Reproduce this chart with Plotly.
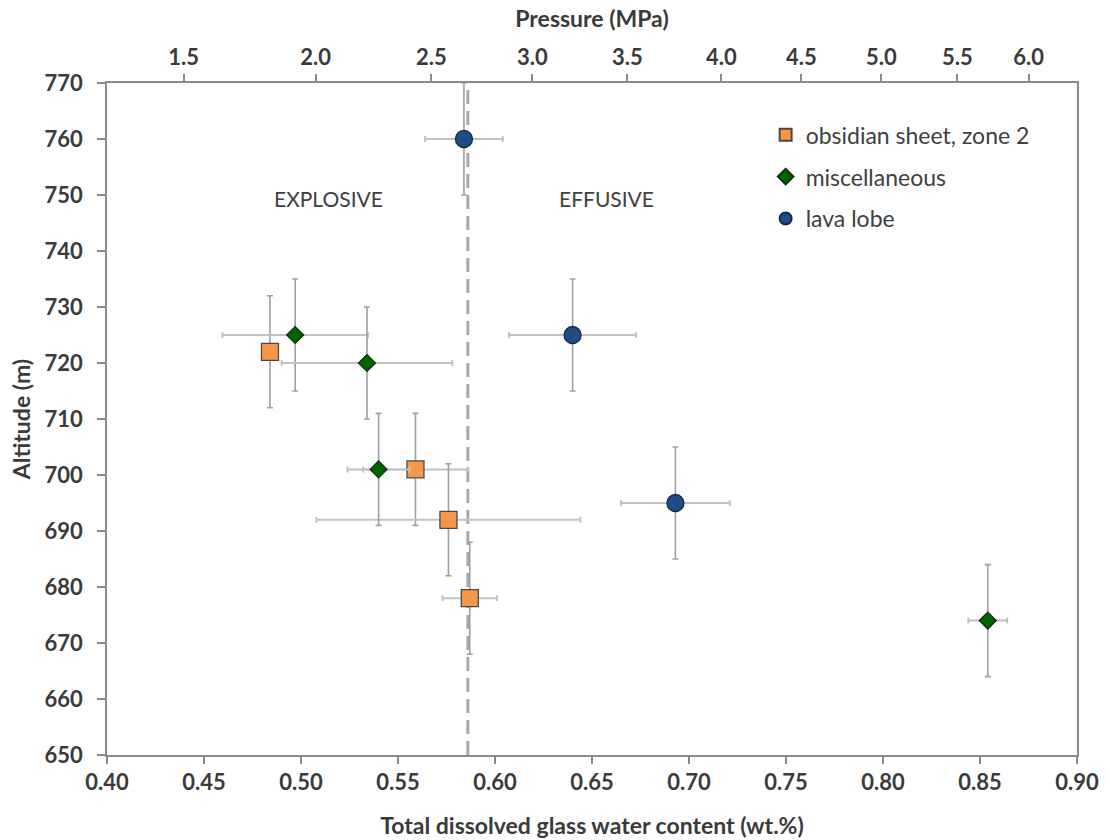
import plotly.graph_objects as go

# ---- data ----
obs_x = [0.484, 0.559, 0.576, 0.587]
obs_y = [722, 701, 692, 678]
obs_xerr = [0.0, 0.027, 0.068, 0.014]
obs_yerr = [10, 10, 10, 10]

misc_x = [0.497, 0.534, 0.540, 0.854]
misc_y = [725, 720, 701, 674]
misc_xerr = [0.0375, 0.044, 0.016, 0.010]
misc_yerr = [10, 10, 10, 10]

lava_x = [0.584, 0.640, 0.693]
lava_y = [760, 725, 695]
lava_xerr = [0.020, 0.0327, 0.028]
lava_yerr = [10, 10, 10]

threshold_x = 0.586
y_range = [650, 770]
x_range = [0.40, 0.90]

pressure_labels = ["1.5", "2.0", "2.5", "3.0", "3.5", "4.0", "4.5", "5.0", "5.5", "6.0"]
pressure_pos = [0.4395, 0.5076, 0.5672, 0.6193, 0.6682, 0.7167, 0.7579, 0.7992, 0.8383, 0.8751]

x_ticks = [0.40, 0.45, 0.50, 0.55, 0.60, 0.65, 0.70, 0.75, 0.80, 0.85, 0.90]
y_ticks = list(range(650, 771, 10))

FONT = "Lato"
TXT = "#3a3a3a"
AX = "#8a8a8a"
TICK_SIZE = 22
TITLE_SIZE = 23

fig = go.Figure()

# dashed threshold line
fig.add_trace(go.Scatter(
    x=[threshold_x, threshold_x], y=y_range, mode="lines",
    line=dict(color="#a9a9a9", width=3, dash="14px,7px"),
    showlegend=False, hoverinfo="skip"))

def add(name, x, y, xe, ye, symbol, size, fill, border):
    fig.add_trace(go.Scatter(
        x=x, y=y, mode="markers", name=name, legendgroup=name,
        marker=dict(symbol=symbol, size=size, color=fill,
                    line=dict(color=border, width=1.3)),
        error_x=dict(type="data", array=xe, visible=True,
                     color="#c2c2c2", thickness=2, width=3),
        error_y=dict(type="data", array=ye, visible=True,
                     color="#a0a0a0", thickness=1.6, width=3),
    ))

add("obsidian sheet, zone 2", obs_x, obs_y, obs_xerr, obs_yerr,
    "square", 17, "#F79646", "#4a4a4a")
add("miscellaneous", misc_x, misc_y, misc_xerr, misc_yerr,
    "diamond", 13, "#006400", "#0b2e0b")
add("lava lobe", lava_x, lava_y, lava_xerr, lava_yerr,
    "circle", 17, "#1F4E85", "#142a4a")

# invisible trace carrying the top pressure axis
fig.add_trace(go.Scatter(
    x=pressure_pos, y=[y_range[0]] * len(pressure_pos), xaxis="x2",
    mode="markers", marker=dict(opacity=0), showlegend=False, hoverinfo="skip"))

fig.add_annotation(x=0.5143, y=749.3, text="EXPLOSIVE", showarrow=False,
                   font=dict(family=FONT, size=21, color="#404040"))
fig.add_annotation(x=0.6576, y=749.3, text="EFFUSIVE", showarrow=False,
                   font=dict(family=FONT, size=21, color="#404040"))

fig.update_layout(
    width=1109, height=840,
    margin=dict(l=107, r=32, t=83, b=85),
    paper_bgcolor="white", plot_bgcolor="white",
    font=dict(family=FONT, color=TXT),
    legend=dict(x=0.679, y=0.955, xanchor="left", yanchor="top",
                font=dict(family=FONT, size=23, color="#404040"),
                bgcolor="rgba(0,0,0,0)", traceorder="grouped",
                tracegroupgap=9, itemsizing="constant", itemwidth=30),
    xaxis=dict(range=x_range, tickvals=x_ticks, automargin=False,
               ticktext=[f"{v:.2f}" for v in x_ticks],
               showgrid=False, zeroline=False,
               showline=True, linecolor=AX, linewidth=1.5,
               ticks="outside", ticklen=7, tickcolor=AX, tickwidth=1.5,
               tickfont=dict(family=FONT, size=TICK_SIZE, color=TXT, weight="bold"),
               title=dict(text="<b>Total dissolved glass water content (wt.%)</b>",
                          font=dict(family=FONT, size=TITLE_SIZE, color=TXT), standoff=24)),
    xaxis2=dict(range=x_range, overlaying="x", side="top", anchor="y", automargin=False,
                tickvals=pressure_pos, ticktext=pressure_labels,
                showgrid=False, zeroline=False,
                showline=True, linecolor=AX, linewidth=1.5,
                ticks="outside", ticklen=7, tickcolor=AX, tickwidth=1.5,
                tickfont=dict(family=FONT, size=TICK_SIZE, color=TXT, weight="bold"),
                title=dict(text="<b>Pressure (MPa)</b>",
                           font=dict(family=FONT, size=TITLE_SIZE, color=TXT), standoff=9)),
    yaxis=dict(range=y_range, tickvals=y_ticks, automargin=False,
               showgrid=False, zeroline=False,
               showline=True, linecolor=AX, linewidth=1.5, mirror=True,
               ticks="outside", ticklen=8, tickcolor=AX, tickwidth=1.5,
               ticklabelstandoff=10,
               tickfont=dict(family=FONT, size=TICK_SIZE, color=TXT, weight="bold"),
               title=dict(text="<b>Altitude (m)</b>",
                          font=dict(family=FONT, size=TITLE_SIZE, color=TXT), standoff=8)),
)

fig.write_html("out.html")
